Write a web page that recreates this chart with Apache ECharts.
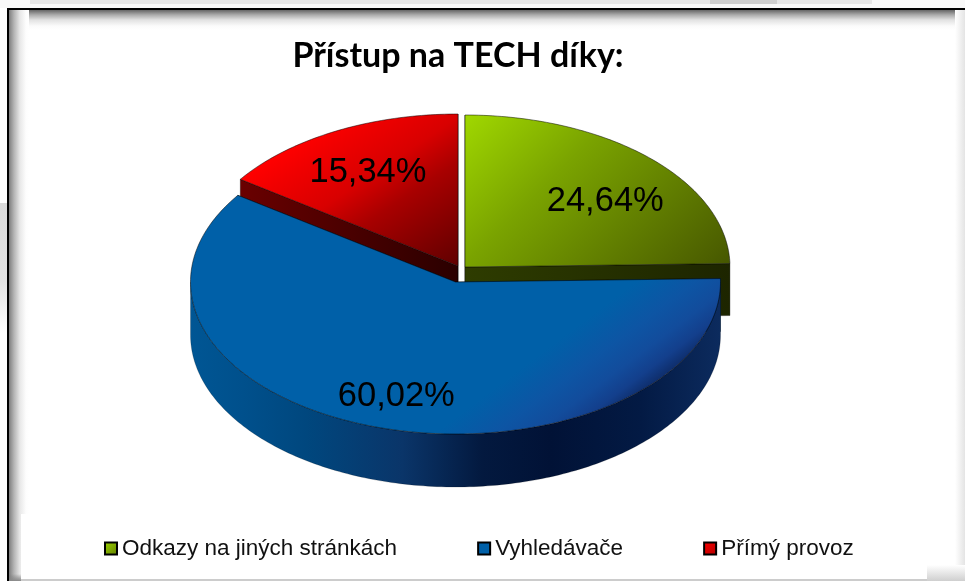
<!DOCTYPE html>
<html><head><meta charset="utf-8">
<style>html,body{margin:0;padding:0;background:#fff}#c{width:965px;height:581px}</style>
<script src="https://cdn.jsdelivr.net/npm/echarts@6/dist/echarts.min.js"></script>
</head><body><div id="c"></div>
<script>
const titleText = 'Přístup na TECH díky:';
const categories = ['Odkazy na jiných stránkách', 'Vyhledávače', 'Přímý provoz'];
const values = [24.64, 60.02, 15.34];

// drawing style, one entry per slice
const total = values.reduce((a, b) => a + b, 0);
const RX = 265, RY = 152;
const LG = (x, y, x2, y2, stops) => new echarts.graphic.LinearGradient(x, y, x2, y2,
  stops.map((c, i) => Array.isArray(c) ? {offset: c[0], color: c[1]} : {offset: i / (stops.length - 1), color: c}));
const looks = [
  {cx: 465, cy: 267, z: 3, lf: 0.757, ldy: 17, depth: 52,
   top: LG(0, 0, 0.78, 1.38, [[0, '#a0d800'], [0.36, '#7aa300'], [0.92, '#4d6000'], [1, '#445500']]),
   cut: LG(0, 0, 1, 0, ['#2e3c00', '#1d2500']), wall: '#1d2500', legend: LG(0, 0, 1, 1, ['#9fd600', '#5f7c00'])},
  {cx: 455.5, cy: 282, z: 4, lf: 0.776, ldy: 2, depth: 53,
   top: LG(0.4, 0, 0.74, 1, [[0, '#0060a8'], [0.7, '#0060a8'], [0.82, '#0d55a4'], [0.9, '#124c9c'], [0.96, '#133f8c'], [1, '#0f3070']]),
   cut: '#00406f',
   wall: LG(0, 0, 1, 0, [[0, '#005694'], [0.1, '#00508c'], [0.22, '#00477e'], [0.4, '#0a3569'], [0.55, '#03193f'], [0.68, '#011236'], [0.85, '#031a44'], [1, '#0c2b5e']]),
   legend: '#0060a8'},
  {cx: 458, cy: 266, z: 2, lf: 0.733, ldy: 5, depth: 52,
   top: LG(0, 0, 0.63, 1.35, [[0, '#ff0000'], [0.22, '#ff0000'], [0.32, '#f00000'], [0.5, '#d80000'], [0.65, '#a80000'], [1, '#600000']]),
   cut: LG(0, 0, 1, 0, ['#6a0000', '#2a0000']), wall: '#2a0000', legend: LG(0, 0, 1, 1, ['#ff0000', '#b00000'])}
];

function rim(L, deg, dy) {
  const a = deg * Math.PI / 180;
  return [L.cx + RX * Math.sin(a), L.cy - RY * Math.cos(a) + (dy || 0)];
}
function arcPts(L, from, to, dy) {
  const n = Math.max(2, Math.ceil(Math.abs(to - from))), out = [];
  for (let i = 0; i <= n; i++) out.push(rim(L, from + (to - from) * i / n, dy));
  return out;
}
function sliceRender(idx) {
  return function (params, api) {
    const L = looks[idx];
    const v = api.value(0);
    const before = values.slice(0, idx).reduce((a, b) => a + b, 0);
    let start = before / total * 360, end = start + v / total * 360;
    const kids = [];
    const apex = [L.cx, L.cy], apexLow = [L.cx, L.cy + L.depth];
    [start, end].forEach(d => {
      const p = rim(L, d), q = rim(L, d, L.depth);
      kids.push({type: 'polygon', shape: {points: [apex, p, q, apexLow]},
        style: {fill: L.cut, stroke: 'rgba(0,0,0,0.55)', lineWidth: 0.6}});
    });
    const a = Math.max(start, 90), b = Math.min(end, 270);
    if (b > a) {
      kids.push({type: 'polygon',
        shape: {points: arcPts(L, a, b, 0).concat(arcPts(L, b, a, L.depth))},
        style: {fill: L.wall, stroke: 'rgba(0,0,0,0.35)', lineWidth: 0.5}});
    }
    kids.push({type: 'polygon', shape: {points: [apex].concat(arcPts(L, start, end, 0))},
      style: {fill: L.top, stroke: 'rgba(0,0,0,0.7)', lineWidth: 0.7}});
    const mid = (start + end) / 2, am = mid * Math.PI / 180;
    kids.push({type: 'text', style: {
      text: v.toFixed(2).replace('.', ',') + '%',
      x: L.cx + L.lf * RX * Math.sin(am), y: L.cy - L.lf * RY * Math.cos(am) + L.ldy,
      fill: '#000', font: '34.5px "Liberation Sans", Arial, sans-serif', align: 'center', verticalAlign: 'middle'}});
    return {type: 'group', children: kids};
  };
}

const vGrad = s => new echarts.graphic.LinearGradient(0, 0, 0, 1, s.map(c => ({offset: c[0], color: c[1]})));
const hGrad = s => new echarts.graphic.LinearGradient(0, 0, 1, 0, s.map(c => ({offset: c[0], color: c[1]})));
const R = (x, y, width, height, fill) => ({type: 'rect', shape: {x, y, width, height}, style: {fill}, silent: true});

const frame = [
  R(0, 0, 965, 8, '#f8f8f8'),
  R(30, 0, 842, 4, '#e6e6e6'),
  R(710, 0, 67, 4, '#cfcfcf'),
  R(0, 203, 7, 130, vGrad([[0, '#dadada'], [0.6, '#e2e2e2'], [1, '#ffffff']])),
  R(9, 10, 956, 20, vGrad([[0, '#666666'], [0.25, '#adadad'], [0.5, '#e2e2e2'], [0.8, '#fbfbfb'], [1, '#ffffff']])),
  R(955, 10, 10, 560, hGrad([[0, '#ffffff'], [1, '#e4e4e4']])),
  R(9, 10, 20, 571, hGrad([[0, '#7e7e7e'], [0.25, '#b4b4b4'], [0.55, '#e8e8e8'], [0.85, '#fdfdfd'], [1, '#ffffff']])),
  R(21, 514, 944, 67, '#ffffff'),
  R(955, 514, 10, 51, hGrad([[0, '#ffffff'], [1, '#e4e4e4']])),
  R(927, 565, 38, 16, vGrad([[0, '#ffffff'], [1, '#cfcfcf']])),
  R(21, 579, 906, 2, '#cccccc'),
  R(9, 574, 12, 7, vGrad([[0, 'rgba(120,120,120,0)'], [1, '#8a8a8a']])),
  R(7, 8, 2, 573, '#000000'),
  R(7, 8, 958, 2, '#000000')
];

const chart = echarts.init(document.getElementById('c'), null, {renderer: 'canvas', width: 965, height: 581});
chart.setOption({
  animation: false,
  backgroundColor: '#ffffff',
  title: {text: titleText, left: 453, top: 34, textAlign: 'center',
    textStyle: {fontFamily: 'Lato', fontWeight: 'bold', fontSize: 34, color: '#000'}},
  legend: {
    left: 99, top: 532, orient: 'horizontal', itemGap: 80, itemWidth: 12, itemHeight: 12, icon: 'rect',
    textStyle: {fontFamily: '"Liberation Sans", Arial', fontSize: 22.5, color: '#111'},
    data: categories.map((name, i) => ({name, itemStyle: {color: looks[i].legend, borderColor: '#000', borderWidth: 2}}))
  },
  graphic: {elements: frame},
  series: categories.map((name, i) => ({
    type: 'custom', name, coordinateSystem: 'none', z: looks[i].z,
    renderItem: sliceRender(i),
    data: [[values[i]]],
    itemStyle: {color: i === 0 ? '#8abb00' : i === 1 ? '#0060a8' : '#e00000'}
  }))
});
</script></body></html>
